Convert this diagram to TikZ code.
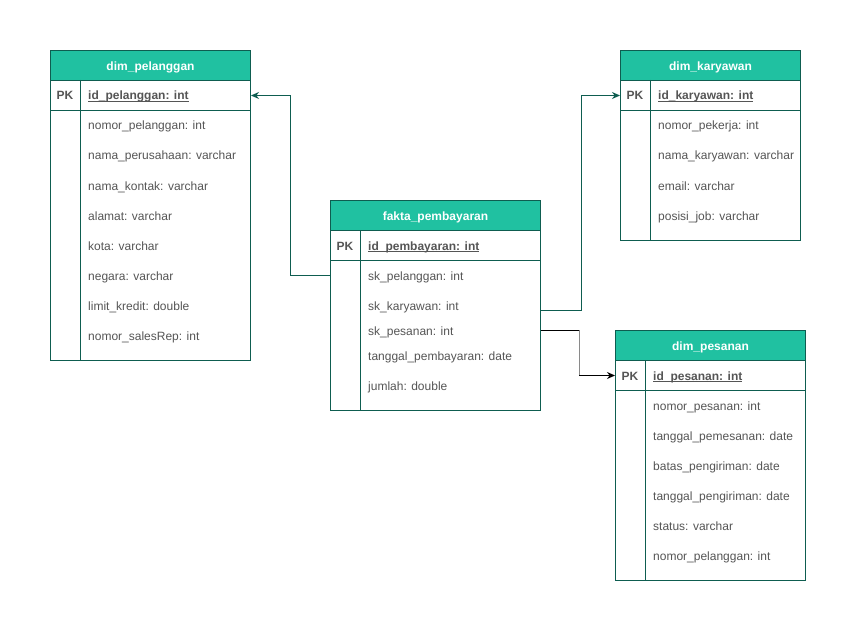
\documentclass[tikz,border=0pt]{standalone}
\usepackage{fontspec}
\setmainfont{Liberation Sans}
\usetikzlibrary{arrows.meta}
\definecolor{hdr}{HTML}{20C1A1}
\definecolor{edge}{HTML}{0E5D50}
\definecolor{txt}{HTML}{555555}
\definecolor{midgray}{HTML}{8A8A8A}
\newcommand\pkul[1]{\setbox0\hbox{#1}\rlap{\rule[-1.8pt]{\wd0}{0.7pt}}\box0}
\tikzset{
 hdrbox/.style={draw=edge, fill=hdr, line width=1pt, inner sep=0pt, anchor=north west,
   text=white, font=\fontsize{12}{14}\selectfont\bfseries, text height=10pt, text depth=0pt},
 rowbox/.style={draw=edge, fill=white, line width=1pt, inner sep=0pt, anchor=north west},
 divider/.style={draw=edge, line width=1pt},
 attr/.style={anchor=west, inner sep=0pt, text=txt, font=\fontsize{12}{14}\selectfont,
   text height=10pt, text depth=0pt},
 pkattr/.style={attr, font=\fontsize{12}{14}\selectfont\bfseries},
 pklabel/.style={anchor=center, inner sep=0pt, text=txt, font=\fontsize{12}{14}\selectfont\bfseries,
   text height=10pt, text depth=0pt},
 link/.style={draw=edge, line width=1pt, -{Stealth[length=8pt,width=7pt]}},
 blacklink/.style={draw=black, line width=1pt},
}
\begin{document}
\begin{tikzpicture}[x=1pt,y=-1pt]
\useasboundingbox (0,0) rectangle (856,631);

% ---------- dim_pelanggan ----------
\node[hdrbox, minimum width=200pt, minimum height=30pt] (pelh) at (50,50) {dim\_pelanggan};
\node[rowbox, minimum width=200pt, minimum height=30pt] (pelpk) at (50,80) {};
\node[rowbox, minimum width=200pt, minimum height=250pt] (pelbody) at (50,110) {};
\draw[divider] ([xshift=30pt]pelpk.north west) -- ([xshift=30pt]pelbody.south west);
\node[pklabel] (pelpkl) at (65,95) {PK};
\node[pkattr] (pelid) at (88,95) {\pkul{id\_pelanggan: int}};
\node[attr] (pela1) at (88,125) {nomor\_pelanggan: int};
\node[attr] (pela2) at (88,155) {nama\_perusahaan: varchar};
\node[attr] (pela3) at (88,185) {nama\_kontak: varchar};
\node[attr] (pela4) at (88,215) {alamat: varchar};
\node[attr] (pela5) at (88,245) {kota: varchar};
\node[attr] (pela6) at (88,275) {negara: varchar};
\node[attr] (pela7) at (88,305) {limit\_kredit: double};
\node[attr] (pela8) at (88,335) {nomor\_salesRep: int};

% ---------- dim_karyawan ----------
\node[hdrbox, minimum width=180pt, minimum height=30pt] (karh) at (620,50) {dim\_karyawan};
\node[rowbox, minimum width=180pt, minimum height=30pt] (karpk) at (620,80) {};
\node[rowbox, minimum width=180pt, minimum height=130pt] (karbody) at (620,110) {};
\draw[divider] ([xshift=30pt]karpk.north west) -- ([xshift=30pt]karbody.south west);
\node[pklabel] (karpkl) at (635,95) {PK};
\node[pkattr] (karid) at (658,95) {\pkul{id\_karyawan: int}};
\node[attr] (kara1) at (658,125) {nomor\_pekerja: int};
\node[attr] (kara2) at (658,155) {nama\_karyawan: varchar};
\node[attr] (kara3) at (658,185) {email: varchar};
\node[attr] (kara4) at (658,215) {posisi\_job: varchar};

% ---------- fakta_pembayaran ----------
\node[hdrbox, minimum width=210pt, minimum height=30pt] (fakh) at (330,200) {fakta\_pembayaran};
\node[rowbox, minimum width=210pt, minimum height=30pt] (fakpk) at (330,230) {};
\node[rowbox, minimum width=210pt, minimum height=150pt] (fakbody) at (330,260) {};
\draw[divider] ([xshift=30pt]fakpk.north west) -- ([xshift=30pt]fakbody.south west);
\node[pklabel] (fakpkl) at (345,245) {PK};
\node[pkattr] (fakid) at (368,245) {\pkul{id\_pembayaran: int}};
\node[attr] (skpel) at (368,275) {sk\_pelanggan: int};
\node[attr] (skkar) at (368,305) {sk\_karyawan: int};
\node[attr] (skpes) at (368,330) {sk\_pesanan: int};
\node[attr] (fakt) at (368,355) {tanggal\_pembayaran: date};
\node[attr] (fakj) at (368,385) {jumlah: double};

% ---------- dim_pesanan ----------
\node[hdrbox, minimum width=190pt, minimum height=30pt] (pesh) at (615,330) {dim\_pesanan};
\node[rowbox, minimum width=190pt, minimum height=30pt] (pespk) at (615,360) {};
\node[rowbox, minimum width=190pt, minimum height=190pt] (pesbody) at (615,390) {};
\draw[divider] ([xshift=30pt]pespk.north west) -- ([xshift=30pt]pesbody.south west);
\node[pklabel] (pespkl) at (630,375) {PK};
\node[pkattr] (pesid) at (653,375) {\pkul{id\_pesanan: int}};
\node[attr] (pesa1) at (653,405) {nomor\_pesanan: int};
\node[attr] (pesa2) at (653,435) {tanggal\_pemesanan: date};
\node[attr] (pesa3) at (653,465) {batas\_pengiriman: date};
\node[attr] (pesa4) at (653,495) {tanggal\_pengiriman: date};
\node[attr] (pesa5) at (653,525) {status: varchar};
\node[attr] (pesa6) at (653,555) {nomor\_pelanggan: int};

% ---------- connectors ----------
\draw[link] (fakbody.west |- skpel) -- ++(-40,0) |- (pelpk.east);
\draw[link] ([yshift=-5pt]fakbody.east |- skkar) -- ++(40,0) |- (karpk.west);
\draw[blacklink] (fakbody.east |- skpes) -- ++(38,0) coordinate (bend1);
\draw[draw=midgray, line width=1pt] (bend1) -- (bend1 |- pespk.west) coordinate (bend2);
\draw[blacklink, -{Stealth[length=8pt,width=7pt]}] (bend2) -- (pespk.west);
\end{tikzpicture}
\end{document}
